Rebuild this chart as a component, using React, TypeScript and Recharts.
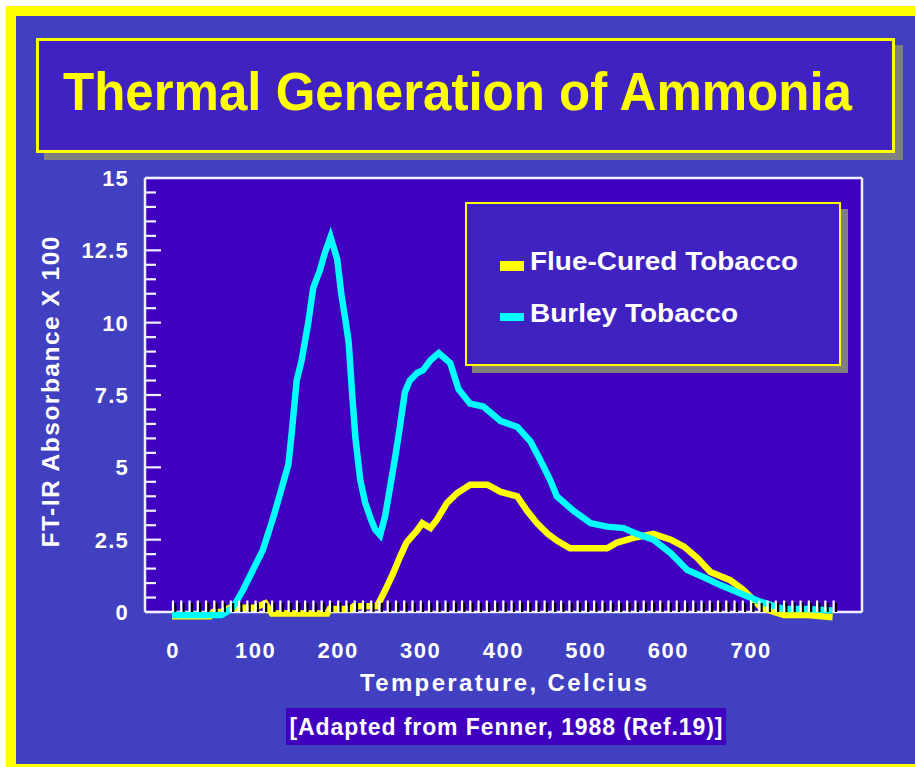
import React from 'react';
import { LineChart, Line, XAxis, YAxis, ReferenceArea, ReferenceLine, Legend } from 'recharts';

// ---- data ----
const flueTemps = [0, 46, 50, 60, 70, 80, 100, 113, 121, 150, 188, 191, 216, 220, 248, 252, 260, 268, 276, 284, 297, 303, 313, 321, 333, 345, 361, 382, 398, 418, 430, 442, 455, 467, 482, 527, 539, 559, 583, 604, 620, 636, 652, 676, 692, 713, 729, 741, 770, 800];
const flueValues = [-0.15, -0.15, 0, 0, 0.15, 0.15, 0.15, 0.3, -0.05, -0.05, -0.05, 0.1, 0.1, 0.2, 0.2, 0.4, 0.86, 1.35, 1.9, 2.4, 2.83, 3.07, 2.9, 3.2, 3.77, 4.1, 4.4, 4.4, 4.15, 4.0, 3.5, 3.07, 2.7, 2.45, 2.2, 2.2, 2.4, 2.56, 2.7, 2.5, 2.26, 1.87, 1.38, 1.1, 0.76, 0.17, 0, -0.1, -0.1, -0.18];

const burleyTemps = [0, 20, 40, 60, 66, 74, 86, 98, 110, 123, 133, 141, 145, 151, 157, 165, 171, 179, 185, 192, 200, 205, 210, 214, 218, 222, 228, 234, 241, 246, 252, 258, 264, 270, 276, 282, 288, 297, 304, 313, 323, 337, 347, 361, 377, 398, 418, 434, 446, 458, 466, 486, 507, 527, 547, 563, 583, 604, 624, 644, 664, 688, 713, 741, 770, 800];
const burleyValues = [-0.1, -0.1, -0.1, -0.1, 0, 0.17, 0.76, 1.45, 2.14, 3.3, 4.3, 5.1, 6.2, 8.0, 8.7, 10.0, 11.2, 11.8, 12.4, 12.96, 12.2, 11.0, 10.1, 9.3, 7.6, 6.05, 4.56, 3.77, 3.2, 2.85, 2.66, 3.3, 4.3, 5.3, 6.4, 7.6, 8.0, 8.26, 8.36, 8.7, 8.95, 8.6, 7.7, 7.2, 7.1, 6.6, 6.4, 5.9, 5.25, 4.56, 4.0, 3.5, 3.07, 2.95, 2.9, 2.7, 2.5, 2.03, 1.45, 1.2, 0.93, 0.65, 0.35, 0.1, 0.1, 0.05];

const seriesNames = ['Flue-Cured Tobacco', 'Burley Tobacco'];
const xTickLabels = [0, 100, 200, 300, 400, 500, 600, 700];
const xMinorStep = 10;
const xMinorMax = 800;
const yTickLabels = [0, 2.5, 5, 7.5, 10, 12.5, 15];
const yMinorStep = 0.5;
const xDomain: [number, number] = [-32.7, 835.6];
const yDomain: [number, number] = [-0.5, 15];

const titleText = 'Thermal Generation of Ammonia';
const xAxisTitle = 'Temperature, Celcius';
const yAxisTitle = 'FT-IR Absorbance X 100';
const captionText = '[Adapted from Fenner, 1988 (Ref.19)]';

// ---- derived tables ----
const flueData = flueTemps.map((t, i) => ({ T: t, v: flueValues[i] }));
const burleyData = burleyTemps.map((t, i) => ({ T: t, v: burleyValues[i] }));
const xTicks = Array.from({ length: xMinorMax / xMinorStep + 1 }, (_, i) => i * xMinorStep);
const yTicks = Array.from({ length: Math.round(15 / yMinorStep) + 1 }, (_, i) => i * yMinorStep);

const FONT = '"Liberation Sans", Arial, Helvetica, sans-serif';
const YELLOW = '#FFFF00';
const CYAN = '#00FFFF';
const OUTER_BG = '#4040C0';
const BOX_BG = '#4022C0';
const PLOT_BG = '#4000C0';
const FRAME = '#F0F0FF';
const ZERO_SHIFT = 14.47; // distance from plot bottom (-0.5) to the zero line
const legendTextWidths = [268, 208];

const XTick = (props: any) => {
  const { x, y, payload } = props;
  const base = y - ZERO_SHIFT;
  const v = payload.value;
  return (
    <g>
      <line x1={x + 3.3} x2={x + 3.3} y1={base - 9} y2={base} stroke="#000000" strokeWidth={2.3} />
      <line x1={x + 1} x2={x + 1} y1={base - 11.5} y2={base} stroke="#FFFFFF" strokeWidth={2.2} />
      {xTickLabels.includes(v) && (
        <text x={x + 1} y={base + 46} textAnchor="middle" fill="#FFFFFF" fontSize={22} fontWeight="bold" fontFamily={FONT} letterSpacing={1.5}>
          {v}
        </text>
      )}
    </g>
  );
};

const YTick = (props: any) => {
  const { x, y, payload } = props;
  const v = payload.value;
  const major = yTickLabels.includes(v);
  return (
    <g>
      <line x1={x} x2={x + (major ? 16 : 11)} y1={y} y2={y} stroke={FRAME} strokeWidth={2.2} />
      {major && (
        <text x={x - 16} y={y + 8} textAnchor="end" fill="#FFFFFF" fontSize={22} fontWeight="bold" fontFamily={FONT} letterSpacing={1.2}>
          {v}
        </text>
      )}
    </g>
  );
};

const LegendBox = (props: any) => {
  const payload = ([...(props.payload || [])] as any[]).sort(
    (a, b) => seriesNames.indexOf(a.value) - seriesNames.indexOf(b.value)
  );
  return (
    <div style={{ position: 'relative', width: 376, height: 164 }}>
      <div style={{ position: 'absolute', left: 7, top: 7, width: 376, height: 164, background: '#808080' }} />
      <div style={{ position: 'absolute', left: 0, top: 0, width: 376, height: 164, boxSizing: 'border-box', border: `2.5px solid ${YELLOW}`, background: BOX_BG }} />
      <svg width={376} height={164} style={{ position: 'absolute', left: 0, top: 0 }}>
        {payload.map((p, i) => (
          <g key={p.value} transform={`translate(0, ${i * 52})`}>
            <rect x={35} y={59} width={24} height={i === 0 ? 10 : 8} fill={p.color} />
            <text x={65} y={68} fill="#FFFFFF" fontSize={26} fontWeight="bold" fontFamily={FONT} textLength={legendTextWidths[seriesNames.indexOf(p.value)]} lengthAdjust="spacingAndGlyphs">
              {p.value}
            </text>
          </g>
        ))}
      </svg>
    </div>
  );
};

export default function App() {
  return (
    <div style={{ position: 'absolute', left: 0, top: 0, width: 915, height: 767, background: '#FFFFFF', overflow: 'hidden' }}>
      <div style={{ position: 'absolute', left: 6, top: 6, width: 1000, height: 761, background: YELLOW }} />
      <div style={{ position: 'absolute', left: 16, top: 16, width: 1000, height: 748, background: OUTER_BG }} />
      {/* title box */}
      <div style={{ position: 'absolute', left: 44, top: 45, width: 859, height: 115, background: '#808080' }} />
      <div style={{ position: 'absolute', left: 36, top: 38, width: 859, height: 115, boxSizing: 'border-box', border: `3px solid ${YELLOW}`, background: BOX_BG }} />
      {/* caption box */}
      <div style={{ position: 'absolute', left: 286, top: 708, width: 440, height: 37, background: PLOT_BG }} />

      <div style={{ position: 'absolute', left: 0, top: 0 }}>
        <LineChart width={915} height={767} margin={{ top: 178, right: 53, bottom: 110.53, left: 85 }}>
          <ReferenceArea x1={xDomain[0]} x2={xDomain[1]} y1={0} y2={15} fill={PLOT_BG} fillOpacity={1} stroke="none" ifOverflow="extendDomain" zIndex={-200} />
          <XAxis
            type="number"
            dataKey="T"
            domain={xDomain}
            allowDataOverflow
            ticks={xTicks}
            interval={0}
            tick={<XTick />}
            tickLine={false}
            axisLine={false}
            tickSize={0}
            tickMargin={0}
            height={30}
            label={{
              content: () => (
                <text x={503.5} y={691} textAnchor="middle" fill="#FFFFFF" fontSize={24} fontWeight="bold" fontFamily={FONT} textLength={287} lengthAdjust="spacing">
                  {xAxisTitle}
                </text>
              ),
            }}
          />
          <YAxis
            type="number"
            domain={yDomain}
            allowDataOverflow
            ticks={yTicks}
            interval={0}
            tick={<YTick />}
            tickLine={false}
            axisLine={false}
            tickSize={0}
            tickMargin={0}
            width={60}
            label={{
              content: () => (
                <text transform="translate(59, 392) rotate(-90)" x={0} y={0} textAnchor="middle" fill="#FFFFFF" fontSize={24.5} fontWeight="bold" fontFamily={FONT} textLength={311} lengthAdjust="spacing">
                  {yAxisTitle}
                </text>
              ),
            }}
          />
          <ReferenceLine y={0} stroke={FRAME} strokeWidth={2.5} zIndex={450} />
          <ReferenceLine y={15} stroke={FRAME} strokeWidth={2.5} zIndex={450} />
          <ReferenceLine segment={[{ x: xDomain[0], y: 0 }, { x: xDomain[0], y: 15 }]} stroke={FRAME} strokeWidth={2.5} zIndex={450} />
          <ReferenceLine segment={[{ x: xDomain[1], y: 0 }, { x: xDomain[1], y: 15 }]} stroke={FRAME} strokeWidth={2.5} zIndex={450} />
          <Line data={flueData} dataKey="v" name={seriesNames[0]} type="linear" stroke={YELLOW} strokeWidth={6.5} dot={false} activeDot={false} isAnimationActive={false} zIndex={800} />
          <Line data={burleyData} dataKey="v" name={seriesNames[1]} type="linear" stroke={CYAN} strokeWidth={6.5} dot={false} activeDot={false} isAnimationActive={false} zIndex={810} />
          <Legend
            layout="horizontal"
            verticalAlign="middle"
            align="center"
            content={<LegendBox />}
            wrapperStyle={{ position: 'absolute', left: 465, top: 202, width: 376, height: 164 }}
          />
        </LineChart>
      </div>

      <svg width={915} height={767} style={{ position: 'absolute', left: 0, top: 0, pointerEvents: 'none' }}>
        <text x={457.5} y={110} textAnchor="middle" fill={YELLOW} fontSize={53} fontWeight="bold" fontFamily={FONT} textLength={789} lengthAdjust="spacingAndGlyphs">
          {titleText}
        </text>
        <text x={506} y={735} textAnchor="middle" fill="#FFFFFF" fontSize={23} fontWeight="bold" fontFamily={FONT} textLength={433} lengthAdjust="spacing">
          {captionText}
        </text>
      </svg>
    </div>
  );
}
